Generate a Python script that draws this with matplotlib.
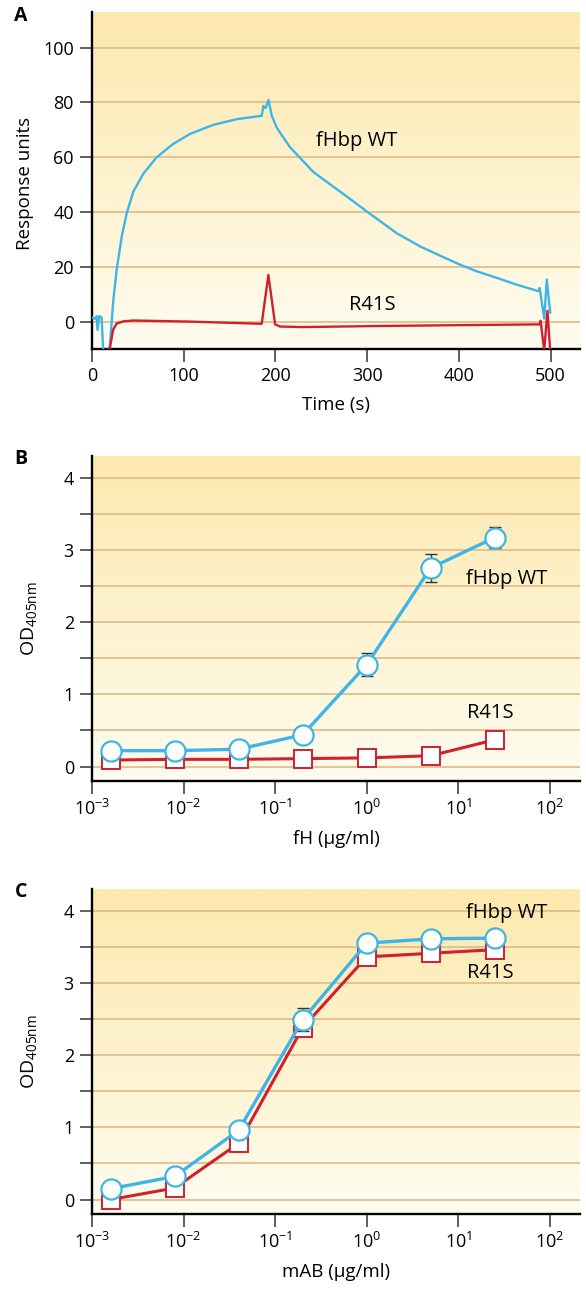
import numpy as np
import matplotlib
matplotlib.use('Agg')
import matplotlib.pyplot as plt
from matplotlib.colors import LinearSegmentedColormap
from matplotlib.ticker import FixedLocator, FuncFormatter, NullLocator

plt.rcParams['font.family'] = ['Open Sans', 'DejaVu Sans']
plt.rcParams['mathtext.fontset'] = 'custom'
plt.rcParams['mathtext.rm'] = 'Open Sans'
plt.rcParams['mathtext.it'] = 'Open Sans:italic'
plt.rcParams['mathtext.bf'] = 'Open Sans:bold'

# -----------------------------
# Data
# -----------------------------
# Panel A: SPR sensorgram (time in s, response units)
t_wt = [0, 1.5, 4, 5.1, 6, 8, 10.5, 12, 13, 18, 19.6, 23.3, 26.9, 32.4, 37.8,
        45, 56, 70.5, 88.7, 106.9, 132.3, 157.8, 185, 186.8, 189.3, 192.3, 196,
        201.4, 208.6, 216, 229, 241, 260, 278, 300, 332, 358, 380, 401, 420,
        441, 460, 486.7, 488, 493, 495.8, 499.5]
ru_wt = [1.5, 1.3, 1, 2, -3, 2, 1.5, -9.5, -12, -12, -8.3, 8, 19, 31, 39.5,
         47.4, 54, 60, 64.9, 68.5, 71.8, 73.9, 75.1, 78.7, 77.9, 80.9, 75.1,
         70.8, 67.2, 63.6, 59, 54.7, 50, 45.6, 40.1, 32.3, 27.4, 24, 20.8, 18.3,
         16, 13.8, 11.1, 12.3, 1.1, 15.4, 3.3]
t_r41s = [16, 19.6, 23, 26.9, 34.2, 45, 107, 185, 192.3, 199.6, 205, 229, 314,
          488, 489, 493, 496.5, 499.5]
ru_r41s = [-10.5, -9.5, -3, -0.7, 0.1, 0.4, 0, -0.8, 17, -1, -1.8, -2, -1.6,
           -1, 0.3, -10.5, 3.9, -10.5]

# Panels B and C: 5-fold dilution series (ug/ml)
conc = [0.0016, 0.008, 0.04, 0.2, 1, 5, 25]

# Panel B: fH binding
fh_wt = [0.22, 0.22, 0.24, 0.44, 1.41, 2.75, 3.17]
fh_wt_err = [0, 0, 0, 0, 0.16, 0.19, 0.15]
fh_r41s = [0.09, 0.10, 0.10, 0.11, 0.12, 0.15, 0.37]

# Panel C: mAB binding
mab_wt = [0.15, 0.32, 0.96, 2.49, 3.55, 3.61, 3.62]
mab_wt_err = [0, 0, 0, 0.16, 0, 0, 0]
mab_r41s = [0.0, 0.16, 0.78, 2.38, 3.36, 3.41, 3.46]

# -----------------------------
# Styling
# -----------------------------
blue = '#3DB5E6'
red = '#D0202E'
grid_c = '#E2BE8C'
bg_cmap = LinearSegmentedColormap.from_list('bg', ['#FFFCF0', '#FDE9AD'])
tick_fs = 13
label_fs = 13.5
note_fs = 14.5

W, H = 586, 1290
fig = plt.figure(figsize=(W / 100, H / 100), dpi=100)


def make_axes(left, top, right, bottom):
    rect = [left / W, 1 - bottom / H, (right - left) / W, (bottom - top) / H]
    bg = fig.add_axes(rect, zorder=0)
    grad = np.linspace(0, 1, 256).reshape(-1, 1)
    bg.imshow(grad, aspect='auto', cmap=bg_cmap, origin='lower',
              extent=[0, 1, 0, 1])
    bg.axis('off')
    ax = fig.add_axes(rect, zorder=1)
    ax.set_facecolor('none')
    for s in ['top', 'right']:
        ax.spines[s].set_visible(False)
    for s in ['left', 'bottom']:
        ax.spines[s].set_linewidth(1.7)
        ax.spines[s].set_color('black')
    ax.tick_params(direction='out', length=9, width=1.2, color='#444444',
                   labelsize=tick_fs, pad=4)
    ax.grid(axis='y', color=grid_c, linewidth=1.3, zorder=0)
    ax.set_axisbelow(True)
    return ax


# -----------------------------
# Panel A
# -----------------------------
axA = make_axes(92, 12, 580, 349)
axA.plot(t_wt, ru_wt, color=blue, linewidth=1.7, zorder=3)
axA.plot(t_r41s, ru_r41s, color=red, linewidth=1.7, zorder=3)
axA.set_xlim(0, 532)
axA.set_ylim(-10, 113)
axA.set_xticks([0, 100, 200, 300, 400, 500])
axA.set_yticks([0, 20, 40, 60, 80, 100])
axA.set_xlabel('Time (s)', fontsize=label_fs, labelpad=8)
axA.set_ylabel('Response units', fontsize=label_fs)
axA.yaxis.set_label_coords(-0.118, 0.49)
axA.text(289, 66, 'fHbp WT', fontsize=note_fs, ha='center', va='center')
axA.text(306, 6.2, 'R41S', fontsize=note_fs, ha='center', va='center')


# -----------------------------
# Panels B and C
# -----------------------------
def dose_panel(top, bottom, wt, wt_err, mut, xlabel, lab_wt, lab_mut):
    ax = make_axes(92, top, 580, bottom)
    ax.set_xscale('log')
    ax.plot(conc, mut, color=red, linewidth=2.2, marker='s', markersize=12.5,
            markerfacecolor='white', markeredgecolor=red, markeredgewidth=1.4,
            zorder=3)
    ax.errorbar(conc, wt, yerr=wt_err, fmt='none', ecolor='#333333',
                elinewidth=1.0, capsize=4, capthick=1.0, zorder=4)
    ax.plot(conc, wt, color=blue, linewidth=2.4, marker='o', markersize=14.5,
            markerfacecolor='white', markeredgecolor=blue, markeredgewidth=1.6,
            zorder=5)
    ax.set_xlim(1e-3, 10 ** 2.33)
    ax.set_ylim(-0.2, 4.3)
    ax.xaxis.set_major_locator(FixedLocator([1e-3, 1e-2, 1e-1, 1, 10, 100]))
    ax.xaxis.set_minor_locator(NullLocator())
    ax.xaxis.set_major_formatter(
        FuncFormatter(lambda v, p: '$\\mathdefault{10^{%d}}$' % round(np.log10(v))))
    ax.yaxis.set_major_locator(FixedLocator(np.arange(0, 4.01, 0.5)))
    ax.yaxis.set_major_formatter(
        FuncFormatter(lambda v, p: '%d' % v if abs(v - round(v)) < 1e-6 else ''))
    ax.set_xlabel(xlabel, fontsize=label_fs, labelpad=8)
    ax.set_ylabel('OD$_{\\mathregular{405nm}}$', fontsize=14)
    ax.yaxis.set_label_coords(-0.108, 0.5)
    ax.text(lab_wt[0], lab_wt[1], 'fHbp WT', fontsize=note_fs, ha='center', va='center')
    ax.text(lab_mut[0], lab_mut[1], 'R41S', fontsize=note_fs, ha='center', va='center')
    return ax


axB = dose_panel(456, 781, fh_wt, fh_wt_err, fh_r41s, 'fH (μg/ml)',
                 (33.6, 2.6), (22.2, 0.74))
axC = dose_panel(889, 1214, mab_wt, mab_wt_err, mab_r41s, 'mAB (μg/ml)',
                 (33.6, 3.97), (22.2, 3.14))

# Panel letters
for letter, y in [('A', 16), ('B', 459), ('C', 892)]:
    fig.text(21 / W, 1 - y / H, letter, fontsize=14, fontweight='bold',
             ha='center', va='center')

fig.savefig('out.png', dpi=100)
